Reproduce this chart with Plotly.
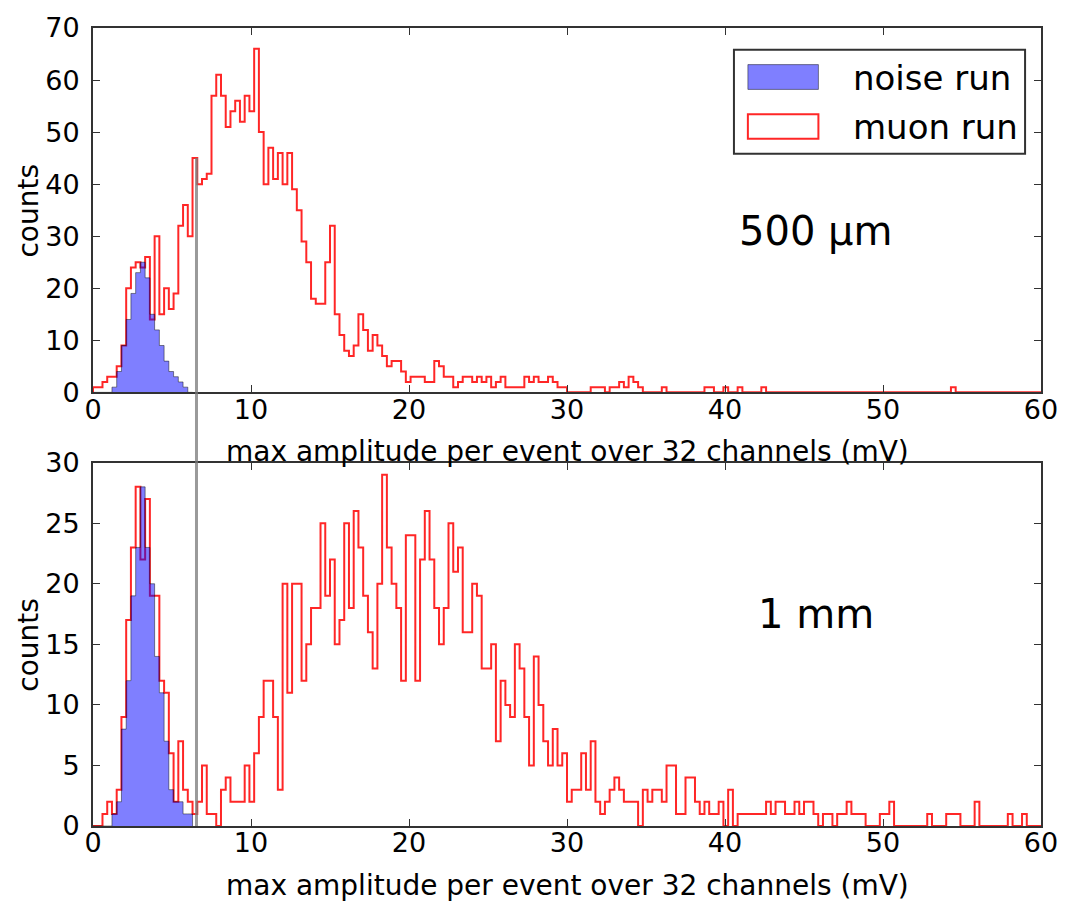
import plotly.graph_objects as go
from plotly.subplots import make_subplots

# ---------------------------------------------------------------- data
BIN_WIDTH = 0.3  # mV per histogram bin, bins start at 0 mV

# 500 um sensor: muon run, counts per bin (200 bins, 0-60 mV)
muon_500um = [
    1, 1, 2, 3, 3, 5, 9, 20, 24, 25, 24, 26, 14, 30, 15, 20, 16, 19, 32, 36,
    30, 45, 40, 41, 42, 57, 61, 57, 51, 54, 56, 52, 57, 54, 66, 50, 40, 47, 41, 46,
    40, 46, 39, 35, 29, 25, 18, 17, 17, 25, 32, 15, 11, 8, 7, 9, 15, 12, 8, 11,
    9, 7, 5, 6, 6, 4, 2, 3, 3, 3, 2, 2, 6, 5, 3, 3, 1, 2, 3, 3,
    2, 3, 2, 3, 1, 2, 3, 1, 1, 1, 1, 3, 2, 3, 2, 2, 3, 2, 1, 1,
    0, 0, 0, 0, 0, 1, 1, 1, 0, 1, 1, 2, 1, 3, 2, 1, 0, 0, 0, 0,
    1, 0, 0, 0, 0, 0, 0, 0, 0, 1, 1, 0, 0, 1, 0, 0, 1, 0, 0, 0,
    0, 1, 0, 0, 0, 0, 0, 0, 0, 0, 0, 0, 0, 0, 0, 0, 0, 0, 0, 0,
    0, 0, 0, 0, 0, 0, 0, 0, 0, 0, 0, 0, 0, 0, 0, 0, 0, 0, 0, 0,
    0, 1, 0, 0, 0, 0, 0, 0, 0, 0, 0, 0, 0, 0, 0, 0, 0, 0, 0, 0,
]

# 500 um sensor: noise run, counts per bin (first 21 bins)
noise_500um = [0, 0, 0, 0, 1, 4, 9, 14, 19, 23, 25, 22, 15, 12, 9, 6, 4, 3, 2, 1, 0]

# 1 mm sensor: muon run, counts per bin (200 bins, 0-60 mV)
muon_1mm = [
    0, 0, 1, 2, 1, 3, 9, 17, 23, 28, 22, 27, 19, 19, 12, 11, 6, 2, 7, 3,
    2, 1, 2, 5, 1, 1, 0, 3, 4, 2, 2, 2, 5, 2, 6, 9, 12, 12, 9, 3,
    20, 11, 20, 20, 12, 15, 18, 18, 25, 19, 22, 15, 17, 25, 18, 26, 23, 19, 16, 13,
    20, 29, 23, 20, 18, 12, 24, 24, 12, 22, 26, 22, 18, 15, 18, 25, 21, 23, 16, 16,
    20, 19, 13, 13, 15, 7, 12, 10, 9, 15, 13, 9, 5, 14, 10, 7, 5, 8, 5, 6,
    2, 3, 3, 6, 3, 7, 2, 1, 2, 3, 4, 3, 2, 2, 2, 0, 3, 2, 3, 3,
    2, 5, 5, 1, 1, 4, 4, 2, 1, 2, 1, 1, 2, 0, 3, 0, 1, 1, 1, 1,
    1, 1, 2, 1, 2, 2, 1, 1, 2, 1, 2, 2, 1, 0, 1, 1, 0, 1, 1, 2,
    1, 1, 1, 0, 0, 0, 1, 1, 2, 0, 0, 0, 0, 0, 0, 0, 1, 0, 0, 0,
    1, 1, 1, 0, 0, 0, 2, 0, 0, 0, 0, 0, 0, 1, 0, 0, 1, 0, 0, 0,
]

# 1 mm sensor: noise run, counts per bin (first 21 bins)
noise_1mm = [0, 0, 0, 0, 1, 2, 8, 12, 19, 23, 28, 23, 20, 14, 11, 7, 3, 2, 2, 1, 1]

x_ticks = [0, 10, 20, 30, 40, 50, 60]
y_ticks_top = [0, 10, 20, 30, 40, 50, 60, 70]
y_ticks_bottom = [0, 5, 10, 15, 20, 25, 30]
panel_labels = ["500 µm", "1 mm"]
legend_labels = ["noise run", "muon run"]
x_title = "max amplitude per event over 32 channels (mV)"
y_title = "counts"

cut_mv = 6.55        # amplitude cut marked across both panels
cut_top_count = 45   # height in the upper panel where the cut marker starts

# ---------------------------------------------------------------- styling
FONT = "DejaVu Sans"
RED = "rgba(255,0,0,0.85)"
BLUE_FILL = "rgba(0,0,255,0.5)"
BLUE_EDGE = "rgba(0,0,0,0.45)"
FRAME = "rgb(50,50,50)"

W, H = 1070, 901
M_L, M_R, M_T, M_B = 93, 23, 20, 75
PLOT_H = H - M_T - M_B
TOP_DOMAIN = [(H - M_B - 388) / PLOT_H, 1.0]
BOTTOM_DOMAIN = [0.0, (H - M_B - 459) / PLOT_H]


def step_outline(counts):
    """Bin edges and counts arranged as a closed step outline (hv)."""
    edges = [i * BIN_WIDTH for i in range(len(counts) + 1)]
    xs = [edges[0]] + edges[:-1] + [edges[-1], edges[-1]]
    ys = [0] + list(counts) + [counts[-1], 0]
    return xs, ys


fig = make_subplots(rows=2, cols=1)

panels = [(muon_500um, noise_500um), (muon_1mm, noise_1mm)]
for row, (muon, noise) in enumerate(panels, start=1):
    mx, my = step_outline(muon)
    fig.add_trace(go.Scatter(x=mx, y=my, mode="lines", line_shape="hv",
                             line=dict(color=RED, width=2),
                             showlegend=False, hoverinfo="skip"), row=row, col=1)
    nx, ny = step_outline(noise)
    fig.add_trace(go.Scatter(x=nx, y=ny, mode="lines", line_shape="hv",
                             fill="toself", fillcolor=BLUE_FILL,
                             line=dict(color=BLUE_EDGE, width=1),
                             showlegend=False, hoverinfo="skip"), row=row, col=1)

axis_common = dict(
    showline=True, linecolor=FRAME, linewidth=2, mirror="ticks",
    ticks="inside", ticklen=7, tickwidth=1, tickcolor=FRAME,
    showgrid=False, zeroline=False,
    tickfont=dict(family=FONT, size=27, color="black"),
)

for ax in ("xaxis", "xaxis2"):
    fig.layout[ax].update(range=[0, 60], tickmode="array", tickvals=x_ticks,
                          ticklabelstandoff=-8, **axis_common)

fig.layout.yaxis.update(domain=TOP_DOMAIN, range=[0, 70], tickmode="array",
                        tickvals=y_ticks_top, ticklabelstandoff=6, **axis_common)
fig.layout.yaxis2.update(domain=BOTTOM_DOMAIN, range=[0, 30], tickmode="array",
                         tickvals=y_ticks_bottom, ticklabelstandoff=6, **axis_common)

# axis titles and panel labels
annotations = []
for xref, yref, label, label_y in (
    ("x domain", "y domain", panel_labels[0], 31),
    ("x2 domain", "y2 domain", panel_labels[1], 17.5),
):
    annotations.append(dict(text=x_title, xref=xref, yref=yref, x=0.5, y=-0.163,
                            xanchor="center", yanchor="middle", showarrow=False,
                            font=dict(family=FONT, size=28, color="black")))
    annotations.append(dict(text=y_title, xref="paper", yref=yref,
                            x=(28 - M_L) / (W - M_L - M_R), y=0.5, textangle=-90,
                            xanchor="center", yanchor="middle", showarrow=False,
                            font=dict(family=FONT, size=28, color="black")))
    annotations.append(dict(text=label, xref=xref.split()[0], yref=yref.split()[0],
                            x=45.75, y=label_y, xanchor="center", yanchor="middle",
                            showarrow=False,
                            font=dict(family=FONT, size=40, color="black")))

# legend drawn in the upper panel, upper right
legend_text_y = [0.864, 0.728]
for text, ty in zip(legend_labels, legend_text_y):
    annotations.append(dict(text=text, xref="x domain", yref="y domain",
                            x=0.7995, y=ty, xanchor="left", yanchor="middle",
                            showarrow=False,
                            font=dict(family=FONT, size=34, color="black")))

shapes = [
    # legend frame
    dict(type="rect", xref="x domain", yref="y domain",
         x0=0.6761, x1=0.9832, y0=0.6549, y1=0.9402,
         line=dict(color=FRAME, width=2), fillcolor="white", layer="below"),
    # noise patch
    dict(type="rect", xref="x domain", yref="y domain",
         x0=0.6908, x1=0.7652, y0=0.8315, y1=0.8995,
         line=dict(color=BLUE_EDGE, width=1), fillcolor=BLUE_FILL),
    # muon patch
    dict(type="rect", xref="x domain", yref="y domain",
         x0=0.6908, x1=0.7652, y0=0.6957, y1=0.7636,
         line=dict(color=RED, width=2), fillcolor="rgba(0,0,0,0)"),
    # amplitude cut spanning both panels
    dict(type="line", xref="x", yref="paper", x0=cut_mv, x1=cut_mv,
         y0=BOTTOM_DOMAIN[0],
         y1=TOP_DOMAIN[0] + (TOP_DOMAIN[1] - TOP_DOMAIN[0]) * cut_top_count / 70,
         line=dict(color="rgba(120,120,120,0.75)", width=3), layer="above"),
]

fig.update_layout(
    width=W, height=H, autosize=False,
    margin=dict(l=M_L, r=M_R, t=M_T, b=M_B),
    paper_bgcolor="white", plot_bgcolor="white",
    showlegend=False,
    annotations=annotations, shapes=shapes,
    font=dict(family=FONT, color="black"),
)

fig.write_html("out.html")
